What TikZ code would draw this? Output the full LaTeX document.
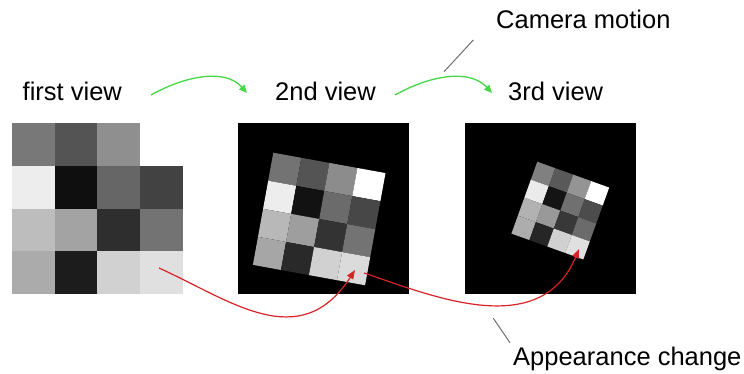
\documentclass[tikz,border=0pt]{standalone}
\usepackage{fontspec}
\setmainfont{Liberation Sans}
\usetikzlibrary{arrows.meta}
\definecolor{garrow}{RGB}{70,215,70}
\definecolor{rarrow}{RGB}{215,35,40}
\definecolor{pgray}{RGB}{110,110,110}
\begin{document}
\begin{tikzpicture}[x=1pt,y=-1pt,
  lbl/.style={anchor=base west,inner sep=0pt,font=\fontsize{25.5}{30}\selectfont},
  garr/.style={draw=garrow,line width=1.3pt,-{Triangle[length=8pt,width=7pt]}},
  rarr/.style={draw=rarrow,line width=1.2pt,-{Triangle[length=9pt,width=7pt]}},
  ptr/.style={draw=pgray,line width=1pt}]
\useasboundingbox (0,0) rectangle (744,373);

% labels
\node[lbl] (t1) at (22.5,100) {first view};
\node[lbl] (t2) at (275,100) {2nd view};
\node[lbl] (t3) at (508,100) {3rd view};
\node[lbl] (cm) at (496,28.3) {Camera motion};
\node[lbl] (ac) at (513,365) {Appearance change};

% first view grid
\begin{scope}[shift={(12,123.3)}]
\begin{scope}[x={(42.7pt,0pt)},y={(0pt,-42.7pt)}]
\foreach \r/\c/\g in {0/0/0.47,0/1/0.33,0/2/0.56,
  1/0/0.93,1/1/0.06,1/2/0.40,1/3/0.26,
  2/0/0.74,2/1/0.64,2/2/0.18,2/3/0.45,
  3/0/0.67,3/1/0.11,3/2/0.82,3/3/0.88}{
  \definecolor{cc}{gray}{\g}
  \fill[cc] (\c,\r) -- ++(1,0) -- ++(0,1) -- ++(-1,0) -- cycle;
}
\end{scope}
\end{scope}

% second view
\fill[black] (238,123.3) rectangle (409,294.3);
\begin{scope}[shift={(273.3,152.7)}]
\begin{scope}[x={(28.04pt,-5.1pt)},y={(-5.1pt,-28.04pt)}]
\foreach \r/\c/\g in {0/0/0.45,0/1/0.33,0/2/0.55,0/3/1.0,
  1/0/0.93,1/1/0.07,1/2/0.42,1/3/0.28,
  2/0/0.72,2/1/0.62,2/2/0.20,2/3/0.45,
  3/0/0.65,3/1/0.16,3/2/0.82,3/3/0.86}{
  \definecolor{cc}{gray}{\g}
  \fill[cc] (\c,\r) -- ++(1,0) -- ++(0,1) -- ++(-1,0) -- cycle;
}
\end{scope}
\end{scope}

% third view
\fill[black] (465,123.3) rectangle (636,294.3);
\begin{scope}[shift={(537.3,161.7)}]
\begin{scope}[x={(17.97pt,-6.47pt)},y={(-6.47pt,-17.97pt)}]
\foreach \r/\c/\g in {0/0/0.50,0/1/0.35,0/2/0.58,0/3/1.0,
  1/0/0.92,1/1/0.08,1/2/0.44,1/3/0.30,
  2/0/0.70,2/1/0.60,2/2/0.22,2/3/0.42,
  3/0/0.68,3/1/0.15,3/2/0.82,3/3/0.88}{
  \definecolor{cc}{gray}{\g}
  \fill[cc] (\c,\r) -- ++(1,0) -- ++(0,1) -- ++(-1,0) -- cycle;
}
\end{scope}
\end{scope}

% connector end points
\coordinate (g1s) at (151,95);
\coordinate (g1e) at (247,93);
\coordinate (g2s) at (395,95);
\coordinate (g2e) at (492,93);
\coordinate (r1s) at (159,268);
\coordinate (r1e) at (355,270);
\coordinate (r2s) at (364,273);
\coordinate (r2e) at (579,249);
\coordinate (cp1) at (473.3,40);
\coordinate (cp2) at (444,71.7);
\coordinate (ap1) at (493.3,318.3);
\coordinate (ap2) at (510,342.7);

% green camera motion arrows
\draw[garr] (g1s) .. controls (185,76) and (225,68) .. (g1e);
\draw[garr] (g2s) .. controls (429,76) and (469,68) .. (g2e);

% red appearance arrows
\draw[rarr] (r1s) .. controls (230,300) and (300,355) .. (r1e);
\draw[rarr] (r2s) .. controls (430,295) and (540,342) .. (r2e);

% pointer lines
\draw[ptr] (cp1) -- (cp2);
\draw[ptr] (ap1) -- (ap2);
\end{tikzpicture}
\end{document}
